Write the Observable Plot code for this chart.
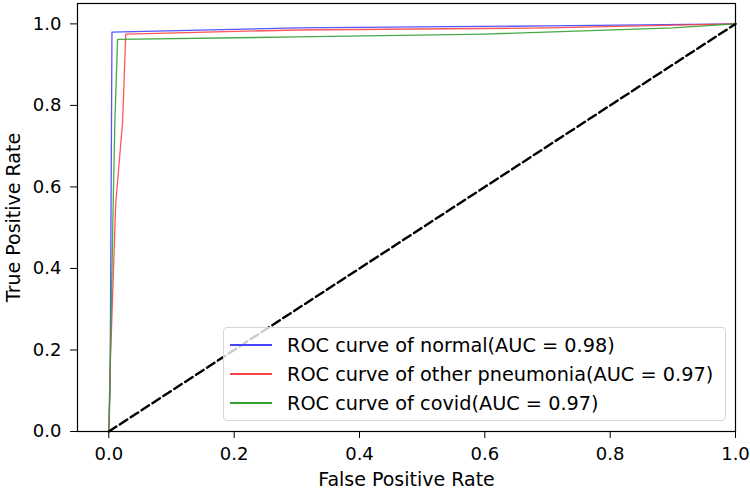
<!DOCTYPE html>
<html><head><meta charset="utf-8">
<script src="https://cdn.jsdelivr.net/npm/d3@7"></script>
<script src="https://cdn.jsdelivr.net/npm/@observablehq/plot@0.6"></script>
<style>
html,body{margin:0;padding:0;background:#fff;}
#wrap{position:relative;width:750px;height:491px;font-family:"DejaVu Sans",sans-serif;}
#wrap svg text{font-size:18px;}
#legend{position:absolute;left:223px;top:327px;width:503px;height:94px;border:1px solid #d6d6d6;border-radius:4px;background:rgba(255,255,255,0.8);box-sizing:border-box;font-size:19.3px;color:#000;}
.row{position:absolute;left:0;height:24px;display:flex;align-items:center;white-space:nowrap;}
.sw{display:inline-block;width:42px;height:1.5px;margin-left:6px;margin-right:15px;}
</style></head>
<body><div id="wrap"></div>
<script>
const seriesNames = ["normal", "other pneumonia", "covid"];
const seriesAUC = [0.98, 0.97, 0.97];
const seriesColors = ["#4444ff", "#ff4444", "#33a033"];
const fprNormal = [0, 0.002, 0.005, 0.3, 0.7, 1];
const tprNormal = [0, 0.10, 0.98, 0.99, 0.995, 1];
const fprOther = [0, 0.002, 0.011, 0.022, 0.027, 0.3, 0.7, 1];
const tprOther = [0, 0.15, 0.56, 0.76, 0.975, 0.985, 0.99, 1];
const fprCovid = [0, 0.002, 0.007, 0.0096, 0.014, 0.3, 0.6, 0.9, 1];
const tprCovid = [0, 0.15, 0.56, 0.76, 0.962, 0.968, 0.975, 0.99, 1];
const diagX = [0, 1];
const diagY = [0, 1];
const xTicks = [0, 0.2, 0.4, 0.6, 0.8, 1.0];
const yTicks = [0, 0.2, 0.4, 0.6, 0.8, 1.0];

const fprs = [fprNormal, fprOther, fprCovid];
const tprs = [tprNormal, tprOther, tprCovid];
const curves = seriesNames.map((n, i) => fprs[i].map((f, j) => ({x: f, y: tprs[i][j], s: n})));
const diag = diagX.map((x, i) => ({x, y: diagY[i]}));

const plot = Plot.plot({
  width: 750, height: 491,
  marginLeft: 77, marginRight: 15, marginTop: 3, marginBottom: 60,
  style: {fontFamily: "DejaVu Sans, sans-serif", fontSize: "18px", color: "#000", background: "#fff"},
  x: {domain: [-0.05, 1.0]},
  y: {domain: [0, 1.05]},
  marks: [
    ...curves.map((c, i) => Plot.line(c, {x: "x", y: "y", stroke: seriesColors[i], strokeWidth: 1.3, strokeOpacity: 0.9, curve: "linear"})),
    Plot.line(diag, {x: "x", y: "y", stroke: "#000", strokeWidth: 2.4, strokeDasharray: "9,4"}),
    Plot.frame({stroke: "#000", strokeWidth: 1.2}),
    Plot.axisX({ticks: xTicks, tickFormat: d => d.toFixed(1), tickSize: 7, tickPadding: 9, label: "False Positive Rate", labelAnchor: "center", labelArrow: "none", labelOffset: 54}),
    Plot.axisY({ticks: yTicks, tickFormat: d => d.toFixed(1), tickSize: 7, tickPadding: 9, label: "True Positive Rate", labelAnchor: "center", labelArrow: "none", labelOffset: 71})
  ]
});
const wrap = document.getElementById("wrap");
wrap.appendChild(plot);
plot.querySelectorAll("[aria-label='x-axis label'] text, [aria-label='y-axis label'] text").forEach(t => t.style.fontSize = "19px");

const legend = document.createElement("div");
legend.id = "legend";
seriesNames.forEach((n, i) => {
  const row = document.createElement("div");
  row.className = "row";
  row.style.top = (5 + i * 29) + "px";
  const sw = document.createElement("span");
  sw.className = "sw";
  sw.style.background = seriesColors[i];
  const t = document.createElement("span");
  t.textContent = `ROC curve of ${n}(AUC = ${seriesAUC[i].toFixed(2)})`;
  row.appendChild(sw); row.appendChild(t);
  legend.appendChild(row);
});
wrap.appendChild(legend);
</script></body></html>
